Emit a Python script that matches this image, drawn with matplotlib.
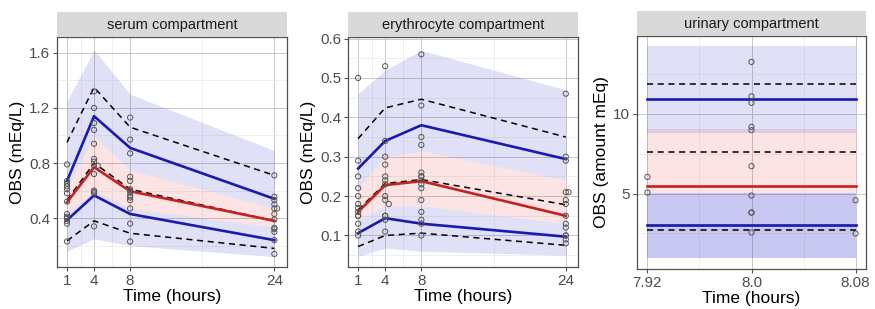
import matplotlib
matplotlib.use('Agg')
import matplotlib.pyplot as plt
from matplotlib.ticker import FixedLocator

plt.rcParams['font.family'] = ['Liberation Sans', 'DejaVu Sans']

# ---- serum compartment ----
serum_t = [1, 4, 8, 24]
serum_ci_top = [1.25, 1.62, 1.30, 0.89]
serum_med_hi = [0.62, 0.99, 0.75, 0.47]
serum_med_lo = [0.43, 0.60, 0.47, 0.335]
serum_ci_bot = [0.16, 0.25, 0.20, 0.12]
serum_obs_hi = [0.95, 1.35, 1.06, 0.71]
serum_pred_hi = [0.67, 1.14, 0.91, 0.54]
serum_obs_med = [0.53, 0.80, 0.61, 0.38]
serum_pred_med = [0.515, 0.77, 0.595, 0.38]
serum_pred_lo = [0.385, 0.565, 0.43, 0.24]
serum_obs_lo = [0.235, 0.38, 0.29, 0.18]
serum_pts_x = ([1] * 13 + [4] * 13 + [4.4] + [8] * 14 + [24] * 12 + [24.3])
serum_pts_y = [0.79, 0.67, 0.65, 0.63, 0.61, 0.58, 0.52, 0.43, 0.41, 0.40, 0.38, 0.36, 0.23,
               1.32, 1.20, 1.09, 1.04, 0.94, 0.83, 0.81, 0.78, 0.72, 0.60, 0.59, 0.58, 0.34,
               0.78,
               1.13, 0.97, 0.87, 0.70, 0.67, 0.61, 0.60, 0.59, 0.565, 0.55, 0.53, 0.47, 0.36, 0.23,
               0.71, 0.555, 0.53, 0.50, 0.47, 0.43, 0.39, 0.33, 0.32, 0.30, 0.24, 0.14,
               0.47]

# ---- erythrocyte compartment ----
ery_t = [1, 4, 8, 24]
ery_ci_top = [0.46, 0.52, 0.57, 0.47]
ery_med_hi = [0.22, 0.30, 0.315, 0.24]
ery_med_lo = [0.14, 0.175, 0.175, 0.13]
ery_ci_bot = [0.047, 0.068, 0.06, 0.05]
ery_obs_hi = [0.346, 0.424, 0.446, 0.35]
ery_pred_hi = [0.27, 0.34, 0.38, 0.294]
ery_obs_med = [0.165, 0.232, 0.242, 0.178]
ery_pred_med = [0.16, 0.228, 0.238, 0.15]
ery_pred_lo = [0.106, 0.144, 0.13, 0.097]
ery_obs_lo = [0.072, 0.10, 0.106, 0.075]
ery_pts_x = ([1] * 13 + [4] * 13 + [4.4] + [8] * 15 + [24] * 13 + [24.3])
ery_pts_y = [0.50, 0.29, 0.25, 0.22, 0.20, 0.18, 0.17, 0.16, 0.15, 0.15, 0.13, 0.11, 0.10,
             0.53, 0.34, 0.30, 0.28, 0.25, 0.24, 0.23, 0.20, 0.19, 0.15, 0.15, 0.14, 0.11,
             0.18,
             0.56, 0.43, 0.35, 0.33, 0.26, 0.25, 0.25, 0.24, 0.23, 0.22, 0.19, 0.16, 0.14, 0.13, 0.10,
             0.46, 0.30, 0.29, 0.21, 0.19, 0.18, 0.15, 0.13, 0.12, 0.10, 0.10, 0.09, 0.08,
             0.21]

# ---- urinary compartment ----
uri_t = [7.92, 8.0, 8.08]
uri_ci_top = [14.2] * 3
uri_hi_lo = [8.8] * 3
uri_med_hi = [9.06] * 3
uri_med_lo = [5.05] * 3
uri_ci_bot = [0.94] * 3
uri_obs_hi = [11.83] * 3
uri_pred_hi = [10.92] * 3
uri_obs_med = [7.6] * 3
uri_pred_med = [5.48] * 3
uri_pred_lo = [3.06] * 3
uri_obs_lo = [2.71] * 3
uri_pts_x = [7.92, 7.92] + [8.0] * 10 + [8.08, 8.08]
uri_pts_y = [6.04, 5.06,
             13.23, 11.08, 10.67, 9.17, 8.96, 6.71, 4.875, 3.81, 3.81, 2.56,
             4.58, 2.5]

W, H = 875, 309
fig = plt.figure(figsize=(W / 100, H / 100), dpi=100)

BLUE = '#1a1ab0'
RED = '#c42222'


def panel(px_left, px_right, px_top, px_bottom, title):
    ax = fig.add_axes([px_left / W, 1 - px_bottom / H, (px_right - px_left) / W, (px_bottom - px_top) / H])
    st = fig.add_axes([px_left / W, 1 - px_top / H, (px_right - px_left) / W, 25 / H])
    st.set_facecolor('#d9d9d9')
    st.set_xticks([])
    st.set_yticks([])
    for s in st.spines.values():
        s.set_visible(False)
    st.text(0.5, 0.47, title, ha='center', va='center', fontsize=10.5, color='#1a1a1a', transform=st.transAxes)
    for s in ax.spines.values():
        s.set_color('#505050')
        s.set_linewidth(0.9)
    ax.tick_params(length=3, color='#505050', labelsize=11, labelcolor='#4d4d4d', pad=2)
    ax.grid(which='major', color='#c8c8c8', linewidth=0.7, zorder=0)
    ax.grid(which='minor', color='#ececec', linewidth=0.6, zorder=0)
    ax.tick_params(which='minor', length=0)
    ax.set_axisbelow(True)
    return ax


def draw(ax, t, ci_top, hi_lo, med_hi, med_lo, ci_bot, obs_hi, pred_hi, obs_med, pred_med,
         pred_lo, obs_lo, px, py, lo_alpha=0.15):
    ax.fill_between(t, med_lo, med_hi, color='#ee3333', alpha=0.13, lw=0, zorder=1)
    ax.fill_between(t, hi_lo, ci_top, color='#3333cc', alpha=0.15, lw=0, zorder=1)
    ax.fill_between(t, ci_bot, med_lo, color='#3333cc', alpha=lo_alpha, lw=0, zorder=1)
    for y in (obs_hi, obs_med, obs_lo):
        ax.plot(t, y, color='black', lw=1.1, ls=(0, (4, 3)), zorder=3)
    ax.plot(t, pred_hi, color=BLUE, lw=1.9, zorder=4)
    ax.plot(t, pred_lo, color=BLUE, lw=1.9, zorder=4)
    ax.plot(t, pred_med, color=RED, lw=1.9, zorder=4)
    ax.scatter(px, py, s=14, facecolors='none', edgecolors='#555555', linewidths=0.7, zorder=5)


# serum
ax1 = panel(57, 287, 37, 267, 'serum compartment')
draw(ax1, serum_t, serum_ci_top, serum_med_hi, serum_med_hi, serum_med_lo, serum_ci_bot,
     serum_obs_hi, serum_pred_hi, serum_obs_med, serum_pred_med, serum_pred_lo, serum_obs_lo,
     serum_pts_x, serum_pts_y)
ax1.set_xlim(-0.11, 25.4)
ax1.set_ylim(0.045, 1.715)
ax1.set_xticks([1, 4, 8, 24])
ax1.set_yticks([0.4, 0.8, 1.2, 1.6])
ax1.set_yticklabels(['0.4', '0.8', '1.2', '1.6'])
ax1.xaxis.set_minor_locator(FixedLocator([2.5, 6, 16]))
ax1.yaxis.set_minor_locator(FixedLocator([0.2, 0.6, 1.0, 1.4]))
ax1.set_xlabel('Time (hours)', fontsize=12.5, labelpad=1)
ax1.set_ylabel('OBS (mEq/L)', fontsize=12.5, labelpad=3)

# erythrocyte
ax2 = panel(348, 578, 37, 267, 'erythrocyte compartment')
draw(ax2, ery_t, ery_ci_top, ery_med_hi, ery_med_hi, ery_med_lo, ery_ci_bot,
     ery_obs_hi, ery_pred_hi, ery_obs_med, ery_pred_med, ery_pred_lo, ery_obs_lo,
     ery_pts_x, ery_pts_y)
ax2.set_xlim(-0.12, 25.35)
ax2.set_ylim(0.02, 0.604)
ax2.set_xticks([1, 4, 8, 24])
ax2.set_yticks([0.1, 0.2, 0.3, 0.4, 0.5, 0.6])
ax2.set_yticklabels(['0.1', '0.2', '0.3', '0.4', '0.5', '0.6'])
ax2.xaxis.set_minor_locator(FixedLocator([2.5, 6, 16]))
ax2.yaxis.set_minor_locator(FixedLocator([0.05, 0.15, 0.25, 0.35, 0.45, 0.55]))
ax2.set_xlabel('Time (hours)', fontsize=12.5, labelpad=1)
ax2.set_ylabel('OBS (mEq/L)', fontsize=12.5, labelpad=3)

# urinary
ax3 = panel(637, 866, 36, 269, 'urinary compartment')
draw(ax3, uri_t, uri_ci_top, uri_hi_lo, uri_med_hi, uri_med_lo, uri_ci_bot,
     uri_obs_hi, uri_pred_hi, uri_obs_med, uri_pred_med, uri_pred_lo, uri_obs_lo,
     uri_pts_x, uri_pts_y, lo_alpha=0.27)
ax3.set_xlim(7.912, 8.088)
ax3.set_ylim(0.28, 14.85)
ax3.set_xticks([7.92, 8.0, 8.08])
ax3.set_xticklabels(['7.92', '8.0', '8.08'])
ax3.set_yticks([5, 10])
ax3.xaxis.set_minor_locator(FixedLocator([7.96, 8.04]))
ax3.yaxis.set_minor_locator(FixedLocator([2.5, 7.5, 12.5]))
ax3.set_xlabel('Time (hours)', fontsize=12.5, labelpad=1)
ax3.set_ylabel('OBS (amount mEq)', fontsize=12.5, labelpad=3)

fig.savefig('out.png', dpi=100)
